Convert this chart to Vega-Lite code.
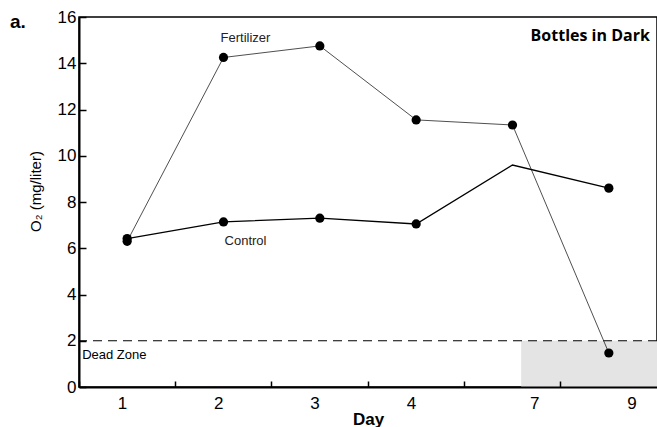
{
  "$schema": "https://vega.github.io/schema/vega-lite/v6.json",
  "width": 578,
  "height": 370,
  "autosize": "none",
  "padding": {"left": 79, "top": 17, "right": 0, "bottom": 40},
  "title": {"text": "a.", "anchor": "start", "frame": "group", "dx": -69, "dy": 39, "offset": 0, "fontSize": 19, "font": "Liberation Sans", "fontWeight": "bold", "baseline": "alphabetic", "color": "black"},
  "config": {
    "view": {"stroke": "black", "strokeWidth": 1.5},
    "font": "Liberation Sans"
  },
  "datasets": {
    "obs": [
      {"series": "Fertilizer", "day": "1", "o2": 6.3, "dot": true},
      {"series": "Fertilizer", "day": "2", "o2": 14.25, "dot": true},
      {"series": "Fertilizer", "day": "3", "o2": 14.75, "dot": true},
      {"series": "Fertilizer", "day": "4", "o2": 11.55, "dot": true},
      {"series": "Fertilizer", "day": "7", "o2": 11.33, "dot": true},
      {"series": "Fertilizer", "day": "9", "o2": 1.47, "dot": true},
      {"series": "Control", "day": "1", "o2": 6.42, "dot": true},
      {"series": "Control", "day": "2", "o2": 7.14, "dot": true},
      {"series": "Control", "day": "3", "o2": 7.3, "dot": true},
      {"series": "Control", "day": "4", "o2": 7.05, "dot": true},
      {"series": "Control", "day": "7", "o2": 9.6, "dot": false},
      {"series": "Control", "day": "9", "o2": 8.6, "dot": true}
    ],
    "notes": [
      {"label": "Fertilizer", "day": "2", "o2": 15.1},
      {"label": "Control", "day": "2", "o2": 6.3}
    ]
  },
  "layer": [
    {
      "data": {"values": [{"from": "7", "to": "9", "lo": 0, "hi": 2}]},
      "mark": {"type": "rect", "color": "#e4e4e4"},
      "encoding": {
        "x": {"field": "from", "type": "ordinal", "bandPosition": 0.59, "scale": {"domain": ["1","2","3","4","7","9"]}},
        "x2": {"field": "to", "bandPosition": 1},
        "y": {"field": "lo", "type": "quantitative"},
        "y2": {"field": "hi"}
      }
    },
    {
      "data": {"values": [{"level": 2}]},
      "mark": {"type": "rule", "color": "black", "strokeWidth": 1.2, "strokeDash": [9, 6]},
      "encoding": {"y": {"field": "level", "type": "quantitative"}}
    },
    {
      "data": {"name": "obs"},
      "mark": {"type": "line", "color": "#222", "strokeWidth": 0.8},
      "transform": [{"filter": "datum.series === 'Fertilizer'"}],
      "encoding": {
        "x": {"field": "day", "type": "ordinal", "sort": null},
        "y": {"field": "o2", "type": "quantitative"}
      }
    },
    {
      "data": {"name": "obs"},
      "mark": {"type": "line", "color": "black", "strokeWidth": 1.3},
      "transform": [{"filter": "datum.series === 'Control'"}],
      "encoding": {
        "x": {"field": "day", "type": "ordinal", "sort": null},
        "y": {"field": "o2", "type": "quantitative"}
      }
    },
    {
      "data": {"name": "obs"},
      "mark": {"type": "point", "filled": true, "color": "black", "size": 85, "opacity": 1},
      "transform": [{"filter": "datum.dot"}],
      "encoding": {
        "x": {
          "field": "day", "type": "ordinal", "sort": null,
          "scale": {"type": "band", "domain": ["1","2","3","4","7","9"], "paddingInner": 0, "paddingOuter": 0},
          "axis": {
            "title": "Day", "titleFontSize": 17, "titleFontWeight": "bold", "titlePadding": 0, "titleColor": "black",
            "labelAngle": 0, "labelFontSize": 17, "labelColor": "black", "labelPadding": 22,
            "labelOffset": {"condition": [{"test": "datum.value == '7'", "value": 27}, {"test": "datum.value == '9'", "value": 28}], "value": 0},
            "bandPosition": 0, "tickSize": -6, "tickColor": "black", "tickWidth": 1.5,
            "domainColor": "black", "domainWidth": 2
          }
        },
        "y": {
          "field": "o2", "type": "quantitative",
          "scale": {"domain": [0, 16], "nice": false},
          "axis": {
            "title": "O₂ (mg/liter)", "titleFontSize": 15, "titleFontWeight": "normal", "titleColor": "black", "titlePadding": 14, "titleY": 174,
            "values": [0, 2, 4, 6, 8, 10, 12, 14, 16],
            "labelFontSize": 17, "labelColor": "black", "labelPadding": 10,
            "tickSize": -7, "tickColor": "black", "tickWidth": 1.5, "grid": false,
            "domainColor": "black", "domainWidth": 2
          }
        }
      }
    },
    {
      "data": {"name": "notes"},
      "mark": {"type": "text", "fontSize": 13, "color": "#222", "dx": 22},
      "encoding": {
        "x": {"field": "day", "type": "ordinal"},
        "y": {"field": "o2", "type": "quantitative"},
        "text": {"field": "label"}
      }
    },
    {
      "data": {"values": [{"label": "Dead Zone", "day": "1", "o2": 1.38}]},
      "mark": {"type": "text", "fontSize": 13, "color": "black", "align": "left", "dx": -45},
      "encoding": {
        "x": {"field": "day", "type": "ordinal"},
        "y": {"field": "o2", "type": "quantitative"},
        "text": {"field": "label"}
      }
    },
    {
      "data": {"values": [{"label": "Bottles in Dark", "day": "9", "o2": 15.2}]},
      "mark": {"type": "text", "fontSize": 16, "fontWeight": "bold", "font": "Open Sans", "color": "black", "align": "right", "dx": 41},
      "encoding": {
        "x": {"field": "day", "type": "ordinal"},
        "y": {"field": "o2", "type": "quantitative"},
        "text": {"field": "label"}
      }
    }
  ]
}
